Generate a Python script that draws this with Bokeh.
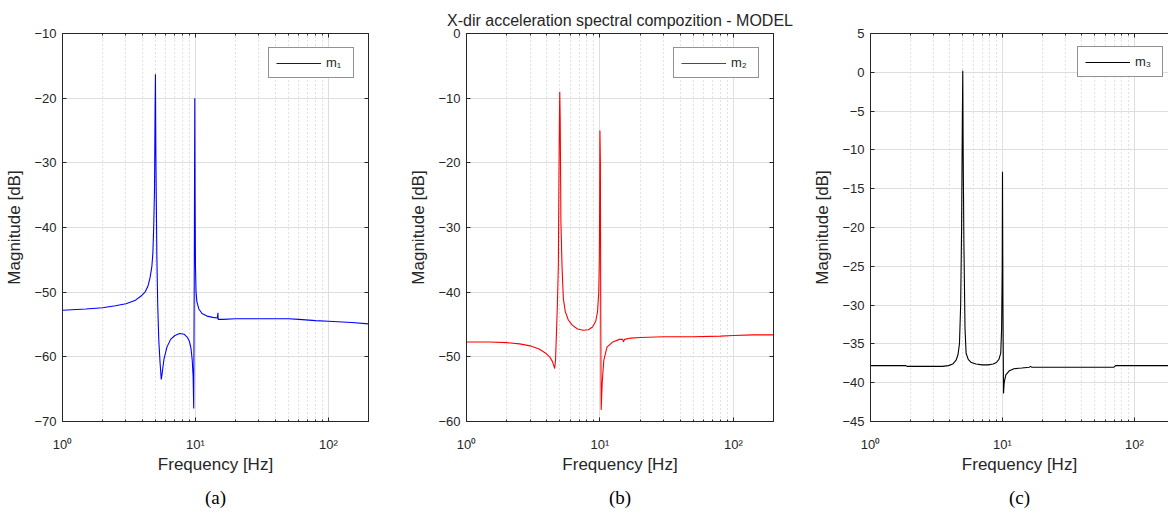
from bokeh.plotting import figure
from bokeh.models import Range1d, FixedTicker, LogAxis, LinearAxis, Title
from bokeh.layouts import row
from bokeh.embed import file_html
from bokeh.resources import INLINE

# ---------------- data ----------------
chart_title = "X-dir acceleration spectral compozition - MODEL"
x_label = "Frequency [Hz]"
y_label = "Magnitude [dB]"
x_major = [1, 10, 100]
x_minor = [2, 3, 4, 5, 6, 7, 8, 9, 20, 30, 40, 50, 60, 70, 80, 90, 200]
x_major_labels = ["10⁰", "10¹", "10²"]
series_names = ["m₁", "m₂", "m₃"]
captions = ["(a)", "(b)", "(c)"]

y_ticks_a = [-70, -60, -50, -40, -30, -20, -10]
y_ticks_b = [-60, -50, -40, -30, -20, -10, 0]
y_ticks_c = [-45, -40, -35, -30, -25, -20, -15, -10, -5, 0, 5]

freq_a = [1.0, 1.5, 2.0, 2.5, 3.0, 3.5, 3.9, 4.2, 4.4, 4.55, 4.7, 4.78, 4.85, 4.92,
          4.97, 5.0, 5.03, 5.07, 5.12, 5.2, 5.3, 5.42, 5.53, 5.62, 5.8, 6.1, 6.5, 7.0,
          7.6, 8.2, 8.7, 9.0, 9.25, 9.45, 9.6, 9.7, 9.8, 9.88, 9.93, 10.0, 10.1, 10.25,
          10.6, 11.2, 12.2, 13.5, 14.6, 14.75, 14.8, 14.9, 16, 20, 30, 40, 50, 60, 80,
          100, 150, 200]
mag_a = [-52.8, -52.6, -52.4, -52.1, -51.8, -51.3, -50.6, -49.9, -49.0, -47.8, -46.0,
         -44.0, -40.0, -34.0, -21.5, -16.3, -27.0, -35.0, -44.0, -52.0, -57.5, -61.0,
         -63.5, -62.5, -60.3, -58.5, -57.3, -56.7, -56.4, -56.5, -57.0, -57.6, -58.7,
         -60.5, -63.0, -68.0, -45.0, -20.0, -35.5, -46.0, -50.0, -51.5, -52.6, -53.3,
         -53.7, -53.9, -54.0, -53.2, -54.2, -54.2, -54.2, -54.1, -54.1, -54.1, -54.1,
         -54.2, -54.4, -54.5, -54.7, -54.9]

freq_b = [1.0, 1.5, 2.0, 2.5, 3.0, 3.5, 3.9, 4.2, 4.4, 4.52, 4.58, 4.65, 4.72, 4.8,
          4.88, 4.93, 4.97, 5.0, 5.04, 5.1, 5.2, 5.32, 5.5, 5.8, 6.2, 6.8, 7.5, 8.2,
          8.8, 9.3, 9.6, 9.8, 9.9, 9.96, 10.0, 10.08, 10.15, 10.22, 10.4, 10.7, 11.3,
          12.5, 14.0, 14.8, 15.0, 15.3, 17, 20, 30, 50, 80, 100, 140, 200]
mag_b = [-47.7, -47.7, -47.8, -48.0, -48.3, -48.8, -49.4, -50.0, -50.7, -51.4, -51.8,
         -50.5, -46.5, -42.0, -36.0, -22.5, -13.5, -9.0, -13.5, -29.0, -36.0, -41.0,
         -43.0, -44.3, -45.1, -45.7, -45.9, -45.8, -45.4, -44.5, -43.0, -40.0, -35.0,
         -25.0, -15.0, -20.0, -45.0, -58.2, -54.0, -50.5, -48.5, -47.7, -47.3, -47.3,
         -47.7, -47.3, -47.1, -47.0, -46.9, -46.9, -46.8, -46.7, -46.6, -46.6]

freq_c = [1.0, 1.5, 1.85, 1.9, 2.5, 3.0, 3.5, 3.9, 4.2, 4.45, 4.6, 4.72, 4.82, 4.9,
          4.96, 5.0, 5.04, 5.1, 5.2, 5.3, 5.5, 5.8, 6.3, 7.0, 7.8, 8.5, 9.0, 9.4, 9.7,
          9.85, 9.95, 10.0, 10.08, 10.18, 10.3, 10.6, 11.2, 12.2, 14.0, 16.0, 16.3,
          16.6, 20, 30, 50, 70, 72, 100, 150, 200]
mag_c = [-37.8, -37.8, -37.8, -37.9, -37.9, -37.9, -37.9, -37.8, -37.6, -37.1, -36.4,
         -35.0, -30.0, -20.0, -6.8, 0.2, -11.0, -22.0, -33.0, -36.2, -37.0, -37.4,
         -37.6, -37.7, -37.7, -37.6, -37.4, -37.0, -36.2, -33.0, -25.0, -12.8, -30.0,
         -41.4, -40.0, -39.0, -38.5, -38.2, -38.1, -38.0, -37.9, -38.0, -38.0, -38.0,
         -38.0, -38.0, -37.8, -37.8, -37.8, -37.8]

# ---------------- style ----------------
AX = "#262626"
FONT = "Liberation Sans"
H = 517


def style_axis(ax, labels=True):
    ax.axis_line_color = AX
    ax.major_tick_line_color = AX
    ax.minor_tick_line_color = AX
    ax.major_tick_in = 4
    ax.major_tick_out = 0
    ax.minor_tick_in = 2
    ax.minor_tick_out = 0
    if labels:
        ax.major_label_text_color = AX
        ax.major_label_text_font = FONT
        ax.major_label_text_font_size = "13px"
        ax.axis_label_text_font = FONT
        ax.axis_label_text_font_size = "17px"
        ax.axis_label_text_font_style = "normal"
        ax.axis_label_text_color = AX
    else:
        ax.major_label_text_font_size = "2px"
        ax.major_label_text_alpha = 0.0
        ax.major_label_standoff = 0


def make_panel(freq, mag, color, name, yticks, x_end, width, bl, br, caption,
               cap_offset, boxed, legend_loc="top_right"):
    p = figure(width=width, height=H, x_axis_type="log",
               x_range=Range1d(1, x_end), y_range=Range1d(yticks[0], yticks[-1]),
               output_backend="svg", toolbar_location=None,
               min_border_left=bl, min_border_right=br,
               min_border_top=33, min_border_bottom=96)
    p.background_fill_color = "white"
    p.border_fill_color = "white"
    p.outline_line_color = AX if boxed else None

    p.line(freq, mag, line_color=color, line_width=1.1, legend_label=name)

    p.xaxis.ticker = FixedTicker(ticks=x_major, minor_ticks=x_minor)
    p.xaxis.major_label_overrides = dict(zip(x_major, x_major_labels))
    p.yaxis.ticker = FixedTicker(ticks=yticks)
    p.xaxis.axis_label = x_label
    p.yaxis.axis_label = y_label
    for ax in p.xaxis + p.yaxis:
        style_axis(ax)
    p.xaxis.major_label_standoff = 15
    p.xaxis.axis_label_standoff = 0
    p.yaxis.major_label_standoff = 6
    p.yaxis.axis_label_standoff = 7

    top = LogAxis(ticker=FixedTicker(ticks=x_major, minor_ticks=x_minor))
    style_axis(top, labels=False)
    p.add_layout(top, "above")
    if boxed:
        rgt = LinearAxis(ticker=FixedTicker(ticks=yticks))
        style_axis(rgt, labels=False)
        p.add_layout(rgt, "right")

    p.xgrid.grid_line_color = "#dedede"
    p.xgrid.minor_grid_line_color = "#c4c4c4"
    p.xgrid.minor_grid_line_dash = "1 3"
    p.ygrid.grid_line_color = "#dedede"

    lg = p.legend[0]
    lg.location = legend_loc
    lg.margin = 14
    lg.padding = 7
    lg.glyph_width = 45
    lg.glyph_height = 14
    lg.label_standoff = 5
    lg.label_text_font = FONT
    lg.label_text_font_size = "13px"
    lg.label_text_color = AX
    lg.border_line_color = AX
    lg.border_line_width = 1
    lg.background_fill_color = "white"
    lg.background_fill_alpha = 1.0

    cap = Title(text=caption, align="center", offset=cap_offset,
                vertical_align="bottom",
                text_font="Liberation Serif", text_font_size="19px",
                text_font_style="normal", text_color="black", standoff=17)
    p.add_layout(cap, "below")
    return p


p1 = make_panel(freq_a, mag_a, "#0000ff", series_names[0], y_ticks_a, 200,
                404, 62, 36, captions[0], -27, True)
p2 = make_panel(freq_b, mag_b, "#ff0000", series_names[1], y_ticks_b, 200,
                404, 62, 35, captions[1], -29, True)
main_title = Title(text=chart_title, align="center", text_font=FONT,
                   text_font_size="16px", text_font_style="normal",
                   text_color=AX, standoff=10)
p2.add_layout(main_title, "above")

# third panel is cut off at the window edge (10^2.258 ~ 181 Hz)
p3 = make_panel(freq_c, mag_c, "#000000", series_names[2], y_ticks_c, 181,
                360, 62, 0, captions[2], -27, False, legend_loc=(207, 344))

layout = row(p1, p2, p3)
open("out.html", "w").write(file_html(layout, INLINE))
